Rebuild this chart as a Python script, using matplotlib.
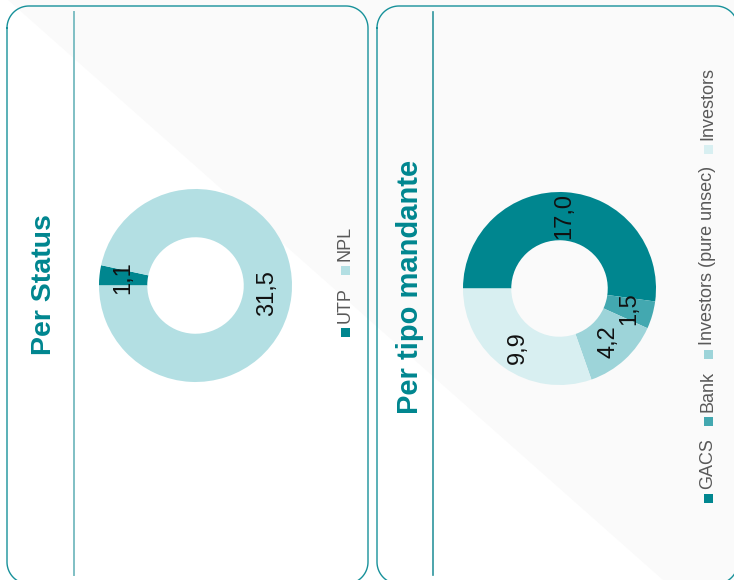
import matplotlib
matplotlib.use('Agg')

import numpy as np
import matplotlib.pyplot as plt
from matplotlib.patches import Rectangle, Polygon

plt.rcParams['font.family'] = ['Liberation Sans', 'DejaVu Sans']

# --- DATI ---
stati = ['UTP', 'NPL']
valori_stato = [1.1, 31.5]
colori_stato = ['#00868f', '#b3dfe3']

mandanti = ['GACS', 'Bank', 'Investors (pure unsec)', 'Investors']
valori_mandante = [17.0, 1.5, 4.2, 9.9]
colori_mandante = ['#00868f', '#43a8b0', '#9dd4d9', '#d8eff1']

TEAL = '#00868f'
W, H = 734, 580

fig = plt.figure(figsize=(W / 100, H / 100), dpi=100)
fig.patch.set_facecolor('white')

# asse di sfondo in pixel (origine in alto a sinistra)
bg = fig.add_axes([0, 0, 1, 1])
bg.set_xlim(0, W); bg.set_ylim(H, 0); bg.axis('off')

# fascia grigia diagonale
bg.add_patch(Polygon([(8, 0), (W, 0), (W, H), (663, H)], closed=True,
                     facecolor='#fafafa', edgecolor='none', zorder=0))


def riquadro(x0, y0, x1, y1, r=22, n=24):
    # rettangolo arrotondato come spezzata (niente curve di Bezier tagliate dal bordo)
    xs, ys = [], []
    for cx, cy, a0 in [(x0 + r, y0 + r, 180), (x1 - r, y0 + r, 270),
                       (x1 - r, y1 - r, 0), (x0 + r, y1 - r, 90)]:
        a = np.radians(np.linspace(a0, a0 + 90, n))
        xs += list(cx + r * np.cos(a)); ys += list(cy + r * np.sin(a))
    xs.append(xs[0]); ys.append(ys[0])
    bg.plot(xs, ys, color='#17919a', lw=1.0, zorder=1)


riquadro(7, 6, 368, 584)
riquadro(377, 6, 738, 584)

# separatori verticali
bg.plot([74, 74], [12, 575], color='#7fbfc4', lw=1.4, zorder=1)
bg.plot([433, 433], [12, 575], color='#2e959d', lw=1.2, zorder=1)

# titoli
bg.text(44, 285, 'Per Status', rotation=90, ha='center', va='center',
        fontsize=20.5, fontweight='bold', color=TEAL)
bg.text(410, 287, 'Per tipo mandante', rotation=90, ha='center', va='center',
        fontsize=21, fontweight='bold', color=TEAL)


def ciambella(cx, cy, r, valori, colori):
    ax = fig.add_axes([(cx - r) / W, (H - cy - r) / H, 2 * r / W, 2 * r / H])
    tot = sum(valori)
    wedges, _, autot = ax.pie(valori, colors=colori, startangle=180, counterclock=False,
                              radius=1, wedgeprops=dict(width=0.5, linewidth=0),
                              autopct=lambda p: f"{p * tot / 100:.1f}".replace('.', ','),
                              pctdistance=0.75,
                              textprops=dict(fontsize=17, color='#111111'))
    for t in autot:
        t.set_rotation(90)
    ax.set_xlim(-1, 1); ax.set_ylim(-1, 1)
    ax.set_aspect('equal')
    ax.axis('off')
    return ax


ciambella(195.5, 285.5, 96.5, valori_stato, colori_stato)
ciambella(559.5, 288.5, 96.5, valori_mandante, colori_mandante)


def legenda(x, y0, etichette, colori, lato=9):
    renderer = fig.canvas.get_renderer()
    y = y0
    for lab, col in zip(etichette, colori):
        bg.add_patch(Rectangle((x - lato / 2, y - lato), lato, lato, facecolor=col,
                               edgecolor='none', zorder=2))
        t = bg.text(x, y - lato - 5, lab, rotation=90, ha='center', va='bottom',
                    fontsize=13, color='#595959')
        bb = t.get_window_extent(renderer)
        y = y - lato - 5 - bb.height - 12


legenda(345, 337, stati, colori_stato)
legenda(708, 503, mandanti, colori_mandante)

fig.savefig('out.png', dpi=100, facecolor=fig.get_facecolor())
